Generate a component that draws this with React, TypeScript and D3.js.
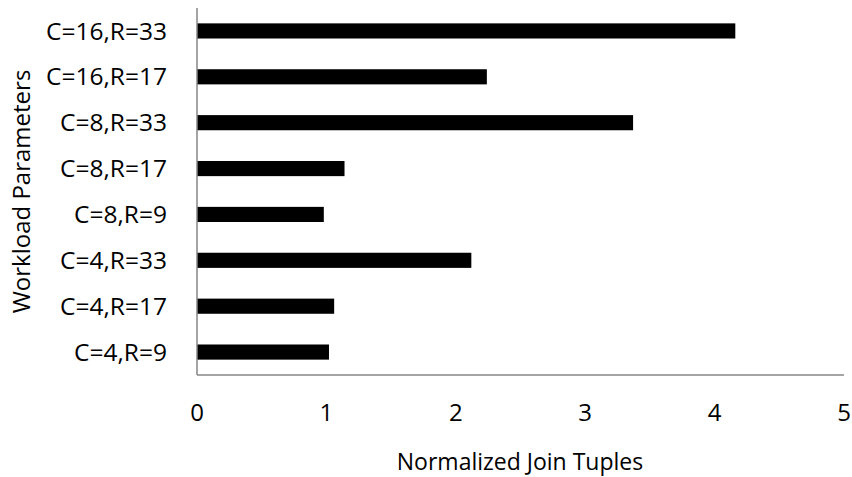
import React, { useEffect, useRef } from 'react';
import * as d3 from 'd3';

const categories = ['C=16,R=33', 'C=16,R=17', 'C=8,R=33', 'C=8,R=17', 'C=8,R=9', 'C=4,R=33', 'C=4,R=17', 'C=4,R=9'];
const values = [4.16, 2.24, 3.37, 1.14, 0.98, 2.12, 1.06, 1.02];
const xTicks = [0, 1, 2, 3, 4, 5];

export default function App() {
  const ref = useRef<SVGSVGElement>(null);

  useEffect(() => {
    const width = 852;
    const height = 477;
    const margin = { top: 8, right: 8, bottom: 102, left: 197 };
    const font = "'Open Sans', sans-serif";

    const svg = d3.select(ref.current);
    svg.selectAll('*').remove();

    const x = d3.scaleLinear().domain([0, 5]).range([margin.left, width - margin.right]);
    const y = d3.scaleBand().domain(categories).range([margin.top, height - margin.bottom]).paddingInner(0.67).paddingOuter(0.335);

    // bars
    svg.append('g')
      .selectAll('rect')
      .data(values)
      .join('rect')
      .attr('x', x(0))
      .attr('y', (d, i) => y(categories[i])!)
      .attr('width', d => x(d) - x(0))
      .attr('height', y.bandwidth())
      .attr('fill', '#000');

    // axis lines
    svg.append('line')
      .attr('x1', x(0)).attr('x2', x(0))
      .attr('y1', margin.top).attr('y2', height - margin.bottom)
      .attr('stroke', '#868686').attr('stroke-width', 1.5);
    svg.append('line')
      .attr('x1', x(0)).attr('x2', x(5))
      .attr('y1', height - margin.bottom).attr('y2', height - margin.bottom)
      .attr('stroke', '#868686').attr('stroke-width', 1.5);

    // category labels
    svg.append('g')
      .selectAll('text')
      .data(categories)
      .join('text')
      .attr('x', 167)
      .attr('y', d => y(d)! + y.bandwidth() / 2)
      .attr('dy', '0.35em')
      .attr('text-anchor', 'end')
      .attr('font-family', font)
      .attr('font-size', 24.5)
      .attr('fill', '#000')
      .text(d => d);

    // x tick labels
    svg.append('g')
      .selectAll('text')
      .data(xTicks)
      .join('text')
      .attr('x', d => x(d))
      .attr('y', 413)
      .attr('dy', '0.35em')
      .attr('text-anchor', 'middle')
      .attr('font-family', font)
      .attr('font-size', 24)
      .attr('fill', '#000')
      .text(d => d);

    // axis titles
    svg.append('text')
      .attr('x', 520)
      .attr('y', 462)
      .attr('dy', '0.35em')
      .attr('text-anchor', 'middle')
      .attr('font-family', font)
      .attr('font-size', 23)
      .attr('fill', '#000')
      .text('Normalized Join Tuples');

    svg.append('text')
      .attr('transform', `translate(22,${(margin.top + height - margin.bottom) / 2}) rotate(-90)`)
      .attr('dy', '0.35em')
      .attr('text-anchor', 'middle')
      .attr('font-family', font)
      .attr('font-size', 24)
      .attr('fill', '#000')
      .text('Workload Parameters');
  }, []);

  return (
    <div style={{ position: 'absolute', left: 0, top: 0 }}>
      <svg ref={ref} width={852} height={477} style={{ display: 'block', background: '#fff' }} />
    </div>
  );
}
